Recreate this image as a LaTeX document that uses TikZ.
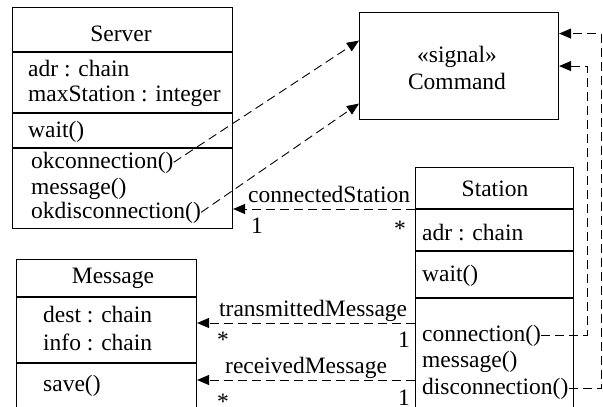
\documentclass[tikz,border=0pt]{standalone}
\usepackage{fontspec}
\setmainfont{Liberation Serif}
\usetikzlibrary{arrows.meta}
\begin{document}
\begin{tikzpicture}[x=1pt,y=-1pt,
  classbox/.style={draw, line width=1.1pt, inner sep=0pt, anchor=north west},
  lbl/.style={inner sep=0pt, anchor=base west, font=\fontsize{23.5}{25}\selectfont},
  ctr/.style={lbl, anchor=base},
  rgt/.style={lbl, anchor=base east},
  mult/.style={lbl, anchor=center},
  divider/.style={line width=1.1pt},
  dep/.style={line width=0.9pt, dash pattern=on 9pt off 5pt,
              -{Triangle[length=12pt,width=10pt]}},
  assoc/.style={dep}
]
\useasboundingbox (0,0) rectangle (603,407);
\clip (0,0) rectangle (603,407);

% ---------- class Server ----------
\node[classbox, minimum width=220pt, minimum height=221pt] (server) at (12,7) {};
\draw[divider] (12,52) -- (232,52);
\draw[divider] (12,113) -- (232,113);
\draw[divider] (12,148) -- (232,148);
\node[ctr] (srvname) at (121,41) {Server};
\node[lbl] (sadr)  at (28,76)  {adr : chain};
\node[lbl] (smax)  at (28,101) {maxStation : integer};
\node[lbl] (swait) at (28,137) {wait()};
\node[lbl] (okc)   at (31,168) {okconnection()};
\node[lbl] (smsg)  at (31,194) {message()};
\node[lbl] (okd)   at (31,218) {okdisconnection()};

% ---------- signal Command ----------
\node[classbox, minimum width=199pt, minimum height=107pt] (command) at (359,12) {};
\node[ctr] (stereo) at (457,62) {«signal»};
\node[ctr] (cmdname) at (457,89) {Command};

% ---------- class Station ----------
\node[classbox, minimum width=158pt, minimum height=253pt] (station) at (415,167) {};
\draw[divider] (415,209) -- (573,209);
\draw[divider] (415,251) -- (573,251);
\draw[divider] (415,298) -- (573,298);
\node[ctr] (stname) at (495,196) {Station};
\node[lbl] (stadr)  at (422,240) {adr : chain};
\node[lbl] (stwait) at (422,281) {wait()};
\node[lbl] (conn)   at (422,341) {connection()};
\node[lbl] (stmsg)  at (422,367) {message()};
\node[lbl] (disc)   at (422,394) {disconnection()};

% ---------- class Message ----------
\node[classbox, minimum width=180pt, minimum height=161pt] (msgbox) at (16,259) {};
\draw[divider] (16,297) -- (196,297);
\draw[divider] (16,363) -- (196,363);
\node[ctr] (msgname) at (113,283) {Message};
\node[lbl] (mdest) at (43,322) {dest : chain};
\node[lbl] (minfo) at (43,350) {info : chain};
\node[lbl] (msave) at (43,391) {save()};

% ---------- associations ----------
\coordinate (csEnd) at (415,209);
\coordinate (tmEnd) at (415,323);
\coordinate (rmEnd) at (415,380);
\draw[assoc] (csEnd) -- (csEnd -| server.east);
\draw[assoc] (tmEnd) -- (tmEnd -| msgbox.east);
\draw[assoc] (rmEnd) -- (rmEnd -| msgbox.east);

\node[lbl] (csname) at (248,202) {connectedStation};
\node[lbl] (csone)  at (251,233) {1};
\node[mult] (csmany) at (400,229) {*};

\node[lbl] (tmname) at (219,316) {transmittedMessage};
\node[mult] (tmmany) at (223,340) {*};
\node[rgt] (tmone)  at (410,347) {1};

\node[lbl] (rmname) at (225,373) {receivedMessage};
\node[mult] (rmmany) at (223,402) {*};
\node[rgt] (rmone)  at (410,405) {1};

% ---------- signal dependencies ----------
\draw[dep] (okc.east) -- ([yshift=25.5pt]command.west);
\draw[dep] (okd.east) -- ([yshift=-37.5pt]command.west);

\coordinate (railA) at (587,0);
\coordinate (railB) at (601,0);
\coordinate (cmdTop) at ([yshift=32.5pt]command.east);
\draw[dep] (conn.east) -| (railA |- command.east) -- (command.east);
\draw[dep] (disc.east) -| (railB |- cmdTop) -- (cmdTop);
\end{tikzpicture}
\end{document}
